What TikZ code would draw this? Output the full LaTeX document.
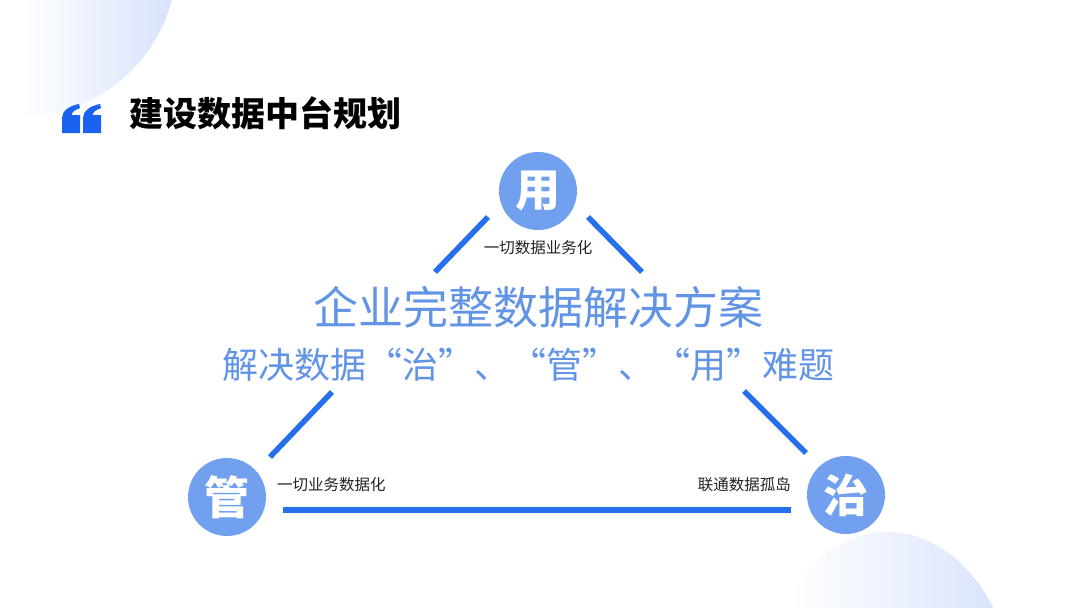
\documentclass[tikz,border=0pt]{standalone}
\usepackage{fontspec}
\newfontfamily\cjk{Noto Sans CJK SC}
\definecolor{lineblue}{RGB}{38,112,236}
\definecolor{circblue}{RGB}{112,160,238}
\definecolor{textblue}{RGB}{98,148,230}
\definecolor{quoteblue}{RGB}{28,98,240}
\definecolor{decoblue}{RGB}{214,226,251}
\definecolor{lblgray}{RGB}{34,34,34}
\pgfdeclarehorizontalshading{decoshadeA}{100bp}{color(0bp)=(white); color(50bp)=(white); color(75bp)=(decoblue); color(100bp)=(decoblue)}
\pgfdeclarehorizontalshading{decoshadeB}{100bp}{color(0bp)=(white); color(31bp)=(white); color(75bp)=(decoblue); color(100bp)=(decoblue)}
\tikzset{
  circ/.style={circle, fill=circblue, minimum size=78pt, inner sep=0pt, text=white, font=\cjk\bfseries\fontsize{45}{45}\selectfont},
  lbl/.style={inner sep=0pt, text=lblgray, font=\cjk\fontsize{15.5}{15.5}\selectfont},
  conn/.style={draw=lineblue, line width=5.5pt},
  quotemark/.style={fill=quoteblue}
}
\newcommand{\oq}{\makebox[1em][r]{“}}
\newcommand{\cq}{\makebox[1em][l]{”}}
\begin{document}
\begin{tikzpicture}[x=1pt,y=-1pt]
\useasboundingbox (0,0) rectangle (1080,608);
\begin{scope}
  \clip (0,0) rectangle (1080,608);
  \shade[shading=decoshadeA] (20,-40) circle[radius=157];
  \shade[shading=decoshadeB] (887,700) ellipse[x radius=127, y radius=168];
\end{scope}
% quote mark
\foreach \ox in {62,83}{
  \fill[quotemark] (\ox,133) -- (\ox,118) .. controls (\ox,111) and (\ox+7,106) .. (\ox+17,104) -- (\ox+18,108) .. controls (\ox+13,110) and (\ox+10,112) .. (\ox+9.5,115) -- (\ox+18,115) -- (\ox+18,133) -- cycle;
}
\node[anchor=west, inner sep=0pt, font=\cjk\bfseries\fontsize{34}{34}\selectfont] (title) at (129,113) {建设数据中台规划};
% circles
\node[circ] (yong) at (538,191) {用};
\node[circ] (guan) at (227,497) {管};
\node[circ] (zhi) at (846,495) {治};
% labels
\node[lbl] (lyong) at (538,248) {一切数据业务化};
\node[lbl, anchor=west] (lguan) at (277,485) {一切业务数据化};
\node[lbl, anchor=east] (lzhi) at (791,485) {联通数据孤岛};
% main text
\node[inner sep=0pt, text=textblue, font=\cjk\fontsize{45}{45}\selectfont] (main1) at (538,307) {企业完整数据解决方案};
\node[inner sep=0pt, text=textblue, font=\cjk\fontsize{36}{36}\selectfont] (main2) at (528.5,365) {解决数据\oq 治\cq 、\oq 管\cq 、\oq 用\cq 难题};
% connectors
\coordinate (a1) at (488,217);
\coordinate (a2) at (435,272);
\coordinate (b1) at (588,217);
\coordinate (b2) at (642,272);
\coordinate (c1) at (332,392);
\coordinate (c2) at (270,457);
\coordinate (d1) at (744,391);
\coordinate (d2) at (806,453);
\coordinate (e1) at (283,510);
\coordinate (e2) at (791,510);
\draw[conn] (a1) -- (a2);
\draw[conn] (b1) -- (b2);
\draw[conn] (c1) -- (c2);
\draw[conn] (d1) -- (d2);
\draw[conn] (e1) -- (e2);
\end{tikzpicture}
\end{document}
